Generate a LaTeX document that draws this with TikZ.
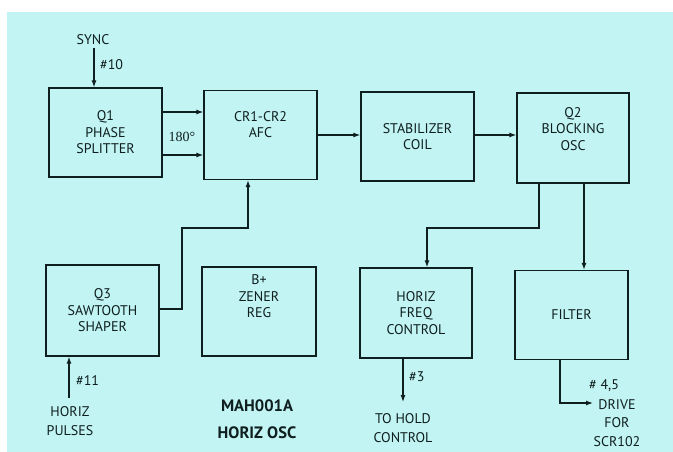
\documentclass[tikz,border=0pt]{standalone}
\usepackage{fontspec}
\setmainfont{PT Sans}
\newfontfamily\serifnum{Liberation Serif}
\usetikzlibrary{arrows.meta}
\definecolor{bgc}{RGB}{194,244,244}
\definecolor{ink}{RGB}{15,30,30}
\tikzset{
  blk/.style={draw=ink, line width=1.2pt, minimum width=113pt, minimum height=89pt, align=center, text=ink, font=\fontsize{14}{16.5}\selectfont, inner sep=0pt},
  conn/.style={draw=ink, line width=1.2pt},
  arr/.style={conn, -{Latex[length=7pt,width=5pt]}},
  lbl/.style={text=ink, font=\fontsize{14}{19}\selectfont, align=center, inner sep=0pt},
}
\begin{document}
\begin{tikzpicture}[x=1pt,y=-1pt]
\useasboundingbox (0,0) rectangle (673,452);
\fill[white] (0,0) rectangle (673,452);
\fill[bgc] (7,12) rectangle (673,452);
% blocks
\node[blk] (q1) at (105.5,132.5) {Q1\\PHASE\\SPLITTER};
\node[blk] (afc) at (260.5,135) {CR1-CR2\\AFC\\[4pt]};
\node[blk] (stab) at (417.5,136.5) {STABILIZER\\COIL};
\node[blk, minimum width=112pt, minimum height=90pt] (q2) at (573,138) {Q2\\BLOCKING\\OSC\\[2pt]};
\node[blk, minimum height=91pt] (q3) at (102.5,310.5) {Q3\\SAWTOOTH\\SHAPER};
\node[blk, minimum width=114pt] (bz) at (259,311.5) {B+\\ZENER\\REG\\[14pt]};
\node[blk, minimum width=112pt, minimum height=90pt] (hfc) at (416,313) {HORIZ\\FREQ\\CONTROL};
\node[blk] (flt) at (571.5,315) {FILTER};
% labels
\node[lbl] (sync) at (93,40) {SYNC};
\node[lbl, anchor=west] (n10) at (100,65) {\#10};
\node[lbl, font=\serifnum\fontsize{14}{16}\selectfont] (deg) at (182,137) {180°};
\node[lbl] (hp) at (70,421) {HORIZ\\PULSES};
\node[lbl, anchor=west] (n11) at (76,381) {\#11};
\node[lbl, anchor=west] (n3) at (409,377) {\#3};
\node[lbl] (thc) at (403,428) {TO HOLD\\CONTROL};
\node[lbl, anchor=west] (n45) at (589,386) {\# 4,5};
\node[lbl, font=\fontsize{14}{18.5}\selectfont] (drv) at (617,423) {DRIVE\\FOR\\SCR102};
\node[lbl, font=\bfseries\fontsize{16.5}{27}\selectfont] (title) at (257,419) {MAH001A\\HORIZ OSC};
% coordinates
\coordinate (syncTop) at (94,48);
\coordinate (hpTop) at (69,398);
\coordinate (thcTop) at (403,402);
\coordinate (drvL) at (593,403);
% connectors
\draw[arr] (syncTop) -- (syncTop |- q1.north);
\draw[arr] (q1.east |- 0,112) -- (afc.west |- 0,112);
\draw[arr] (q1.east |- 0,155) -- (afc.west |- 0,155);
\draw[arr] (afc.east |- 0,135) -- (stab.west |- 0,135);
\draw[arr] (stab.east |- 0,135) -- (q2.west |- 0,135);
\draw[arr] (q3.east |- 0,309) -- (182,309) -- (182,228) -- (248,228) -- (248,0 |- afc.south);
\draw[arr] (539,0 |- q2.south) -- (539,228) -- (427,228) -- (427,0 |- hfc.north);
\draw[arr] (584,0 |- q2.south) -- (584,0 |- flt.north);
\draw[arr] (hpTop) -- (hpTop |- q3.south);
\draw[arr] (thcTop |- hfc.south) -- (thcTop);
\draw[arr] (560,0 |- flt.south) -- (560,403) -- (drvL);
\end{tikzpicture}
\end{document}
